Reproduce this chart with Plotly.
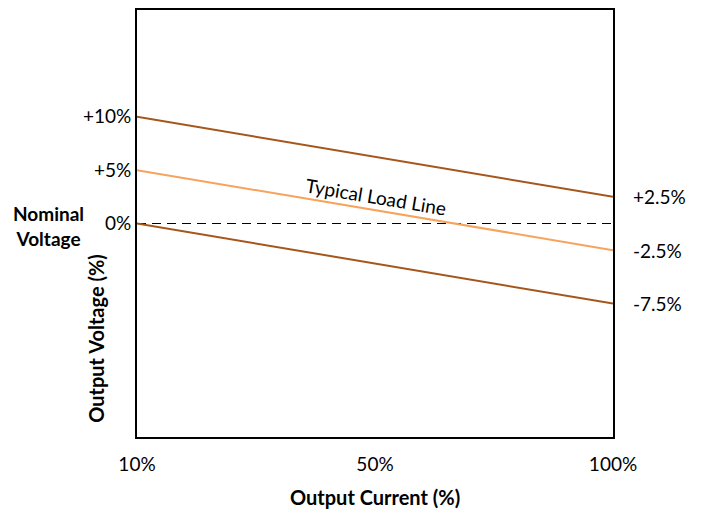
import plotly.graph_objects as go

# Data
current_pos = [10, 100]          # output current endpoints (%)
upper_limit = [10, 2.5]          # output voltage (%)
typical_line = [5, -2.5]
lower_limit = [0, -7.5]
nominal = [0, 0]
x_tick_vals = [10, 55, 100]
x_tick_text = ["10%", "50%", "100%"]
y_tick_vals = [0, 5, 10]
y_tick_text = ["0%", "+5%", "+10%"]
right_labels = ["+2.5%", "-2.5%", "-7.5%"]

DARK = "#A5561C"
LIGHT = "#F7A35C"
FONT = "Lato"
FS = 19

fig = go.Figure()
fig.add_trace(go.Scatter(x=current_pos, y=nominal, mode="lines",
                         line=dict(color="black", width=1.2, dash="9px,6px"), showlegend=False))
fig.add_trace(go.Scatter(x=current_pos, y=upper_limit, mode="lines",
                         line=dict(color=DARK, width=2), showlegend=False))
fig.add_trace(go.Scatter(x=current_pos, y=typical_line, mode="lines",
                         line=dict(color=LIGHT, width=2), showlegend=False))
fig.add_trace(go.Scatter(x=current_pos, y=lower_limit, mode="lines",
                         line=dict(color=DARK, width=2), showlegend=False))

# Right-side end labels
ends = [upper_limit[-1], typical_line[-1], lower_limit[-1]]
for lab, yv in zip(right_labels, ends):
    fig.add_annotation(x=1.0, xref="paper", y=yv, yref="y", text=lab,
                       xanchor="left", yanchor="middle", xshift=18, showarrow=False,
                       font=dict(size=FS, color="black", family=FONT))

# Typical Load Line label
fig.add_annotation(x=(current_pos[0] + current_pos[1]) / 2, y=(typical_line[0] + typical_line[1]) / 2,
                   text="Typical Load Line", textangle=9.4, showarrow=False,
                   yshift=14, xshift=1,
                   font=dict(size=FS, color="black", family=FONT))

# Nominal Voltage label
fig.add_annotation(x=0, xref="paper", y=0, yref="y", text="<b>Nominal<br>Voltage</b>",
                   xanchor="center", yanchor="middle", xshift=-89, yshift=-2, showarrow=False,
                   font=dict(size=FS, color="black", family=FONT))

# Axis titles
fig.add_annotation(x=0, xref="paper", y=0.23, yref="paper", text="<b>Output Voltage (%)</b>",
                   textangle=-90, xanchor="center", yanchor="middle", xshift=-41, showarrow=False,
                   font=dict(size=20, color="black", family=FONT))
fig.add_annotation(x=0.5, xref="paper", y=0, yref="paper", text="<b>Output Current (%)</b>",
                   xanchor="center", yanchor="middle", yshift=-60, showarrow=False,
                   font=dict(size=20, color="black", family=FONT))

# page body adds an 8px offset; size the figure so the plot lands where the reference has it
fig.update_layout(
    width=694, height=506,
    margin=dict(l=129, r=89, t=2, b=77),
    paper_bgcolor="white", plot_bgcolor="white",
    font=dict(family=FONT, size=FS, color="black"),
    xaxis=dict(range=[10, 100], tickvals=x_tick_vals, ticktext=x_tick_text,
               showgrid=False, zeroline=False, showline=True, mirror=True, automargin=False,
               linecolor="black", linewidth=2, ticks="", ticklabelstandoff=9),
    yaxis=dict(range=[-20, 20], tickvals=y_tick_vals, ticktext=y_tick_text,
               showgrid=False, zeroline=False, showline=True, mirror=True, automargin=False,
               linecolor="black", linewidth=2, ticks="", ticklabelstandoff=0),
)

fig.write_html("out.html")
